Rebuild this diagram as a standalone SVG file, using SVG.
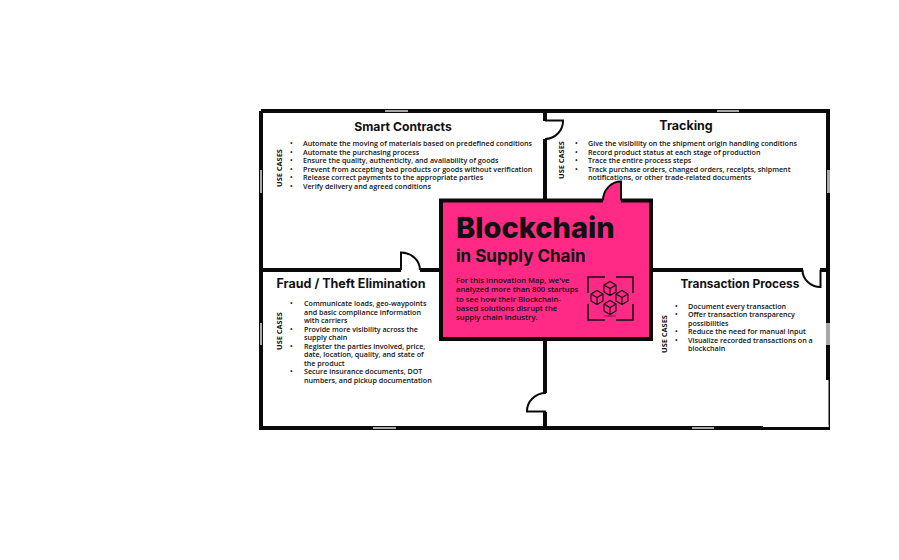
<svg xmlns="http://www.w3.org/2000/svg" width="899" height="560" viewBox="0 0 899 560">
<style>
.wall{fill:none;stroke:#0a0a0a;stroke-width:4}
.door{fill:none;stroke:#0a0a0a;stroke-width:2}
.win{fill:#a8a8a8;stroke:none}
text{font-family:"Open Sans","Liberation Sans",sans-serif;fill:#111}
.t{font-family:Inter,"Open Sans",sans-serif;font-weight:700;font-size:12.5px;text-anchor:middle}
.b{font-size:7.15px;font-weight:600}
.u{font-size:7.4px;font-weight:700;text-anchor:middle}
.c{font-size:7.7px;font-weight:600;fill:#1a0610}
.i{fill:none;stroke:#111;stroke-width:1.1}
.k{fill:none;stroke:#111;stroke-width:1.5}
</style>
<rect width="899" height="560" fill="#fff"/>
<g id="connectors">
<path class="wall" d="M261 111H828V428H261V111"/>
<path class="wall" d="M545 111V121M545 139V200M545 339V393M545 412V428"/>
<path class="wall" d="M261 270H401M420 270H441M651 270H803M820 270H828"/>
<path class="door" d="M401 270V252.500A19 18 0 0 1 420 270"/>
<path class="door" d="M545 120.500H563A18 18 0 0 1 545 139"/>
<path class="door" d="M820.500 270V287A18 17 0 0 1 802.500 270"/>
<path class="door" d="M546 393A19 18 0 0 0 527 411.500H546"/>
<rect class="win" x="385" y="110" width="23" height="2"/>
<rect class="win" x="717" y="110" width="22" height="2"/>
<rect class="win" x="260" y="170" width="2" height="23"/>
<rect class="win" x="827" y="170" width="3" height="23"/>
<rect class="win" x="260" y="323" width="2" height="22"/>
<rect class="win" x="826" y="323" width="4" height="22"/>
<rect class="win" x="373" y="427" width="23" height="2"/>
<rect class="win" x="692" y="427" width="22" height="2"/>
<rect x="825" y="380" width="3.500" height="47" fill="#fff"/>
<rect x="763" y="425" width="65.500" height="2" fill="#fff"/>
</g>
<g id="center">
<path d="M441 200.500H603A18 19 0 0 1 621 181.500V200.500H651V339H441Z" fill="#ff2a85"/>
<path class="wall" d="M603 200.500H441V339H651V200.500H621"/>
<path class="door" d="M603 200.500A18 19 0 0 1 621 181.500V200.500"/>
<text x="456" y="238" style="font-family:Inter,sans-serif;font-weight:800;font-size:29px" fill="#000">Blockchain</text>
<text x="456" y="261.500" style="font-family:Inter,sans-serif;font-weight:700;font-size:17px" fill="#000">in Supply Chain</text>
<text class="c" x="456" y="283">For this Innovation Map, we've</text>
<text class="c" x="456" y="292.300">analyzed more than 800 startups</text>
<text class="c" x="456" y="301.700">to see how their Blockchain-</text>
<text class="c" x="456" y="311">based solutions disrupt the</text>
<text class="c" x="456" y="320.300">supply chain industry.</text>
<g id="icon">
<path class="k" d="M588 293V277H605M616 277H633V293M588 304V320H605M616 320H633V304"/>
<path class="i" d="M604 285L610 281.500L616 285V292L610 295.500L604 292ZM604 285L610 288.500L616 285M610 288.500V295.500"/>
<path class="i" d="M591 294L597 290.500L603 294V301L597 304.500L591 301ZM591 294L597 297.500L603 294M597 297.500V304.500"/>
<path class="i" d="M616 294L622 290.500L628 294V301L622 304.500L616 301ZM616 294L622 297.500L628 294M622 297.500V304.500"/>
<path class="i" d="M604 304L610 300.500L616 304V311L610 314.500L604 311ZM604 304L610 307.500L616 304M610 307.500V314.500"/>
<ellipse cx="610" cy="316" rx="6.500" ry="1" fill="#c4186b"/>
</g>
</g>
<g id="smart-contracts">
<text class="t" x="403" y="131" style="font-size:12.2px">Smart Contracts</text>
<text class="u" transform="translate(282 168) rotate(-90)">USE CASES</text>
<text class="b" x="290" y="146">•</text><text class="b" x="303" y="146">Automate the moving of materials based on predefined conditions</text>
<text class="b" x="290" y="154.500">•</text><text class="b" x="303" y="154.500">Automate the purchasing process</text>
<text class="b" x="290" y="163">•</text><text class="b" x="303" y="163">Ensure the quality, authenticity, and availability of goods</text>
<text class="b" x="290" y="171.500">•</text><text class="b" x="303" y="171.500">Prevent from accepting bad products or goods without verification</text>
<text class="b" x="290" y="180">•</text><text class="b" x="303" y="180">Release correct payments to the appropriate parties</text>
<text class="b" x="290" y="188.500">•</text><text class="b" x="303" y="188.500">Verify delivery and agreed conditions</text>
</g>
<g id="tracking">
<text class="t" x="686" y="130">Tracking</text>
<text class="u" transform="translate(564 160) rotate(-90)">USE CASES</text>
<text class="b" x="575" y="146">•</text><text class="b" x="588" y="146">Give the visibility on the shipment origin handling conditions</text>
<text class="b" x="575" y="154.500">•</text><text class="b" x="588" y="154.500">Record product status at each stage of production</text>
<text class="b" x="575" y="163">•</text><text class="b" x="588" y="163">Trace the entire process steps</text>
<text class="b" x="575" y="171.500">•</text><text class="b" x="588" y="171.500">Track purchase orders, changed orders, receipts, shipment</text>
<text class="b" x="588" y="180">notifications, or other trade-related documents</text>
</g>
<g id="fraud-theft-elimination">
<text class="t" x="351" y="288">Fraud / Theft Elimination</text>
<text class="u" transform="translate(282 331) rotate(-90)">USE CASES</text>
<text class="b" x="290" y="306">•</text><text class="b" x="304" y="306">Communicate loads, geo-waypoints</text>
<text class="b" x="304" y="314.500">and basic compliance information</text>
<text class="b" x="304" y="323">with carriers</text>
<text class="b" x="290" y="331.500">•</text><text class="b" x="304" y="331.500">Provide more visibility across the</text>
<text class="b" x="304" y="340">supply chain</text>
<text class="b" x="290" y="348.500">•</text><text class="b" x="304" y="348.500">Register the parties involved, price,</text>
<text class="b" x="304" y="357">date, location, quality, and state of</text>
<text class="b" x="304" y="365.500">the product</text>
<text class="b" x="290" y="374">•</text><text class="b" x="304" y="374">Secure insurance documents, DOT</text>
<text class="b" x="304" y="382.500">numbers, and pickup documentation</text>
</g>
<g id="transaction-process">
<text class="t" x="740" y="288" style="font-size:11.9px">Transaction Process</text>
<text class="u" transform="translate(667 334) rotate(-90)">USE CASES</text>
<text class="b" x="675" y="308.500">•</text><text class="b" x="688" y="308.500">Document every transaction</text>
<text class="b" x="675" y="317">•</text><text class="b" x="688" y="317">Offer transaction transparency</text>
<text class="b" x="688" y="325.500">possibilities</text>
<text class="b" x="675" y="334">•</text><text class="b" x="688" y="334">Reduce the need for manual input</text>
<text class="b" x="675" y="342.500">•</text><text class="b" x="688" y="342.500">Visualize recorded transactions on a</text>
<text class="b" x="688" y="351">blockchain</text>
</g>
</svg>
